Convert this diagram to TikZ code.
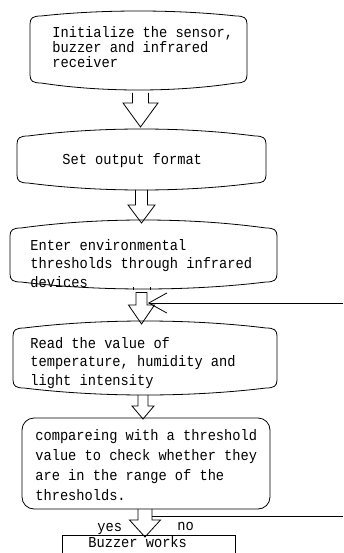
\documentclass[tikz,border=0pt]{standalone}
\usepackage{fontspec}
\newfontfamily\monof[FakeStretch=0.9]{Liberation Mono}
\usetikzlibrary{calc,arrows.meta}
\newcommand\wavybox[6]{%
\pgfmathsetmacro\cT{(4*#3-#4)/3}%
\pgfmathsetmacro\cB{(4*#5-#6)/3}%
\pgfmathsetmacro\xa{#1+0.33*(#2-#1)}%
\pgfmathsetmacro\xb{#2-0.33*(#2-#1)}%
\draw (#1,#4+8) .. controls (#1,#4+2) and (#1+3,#4) .. (#1+11,#4)
 .. controls (\xa,\cT) and (\xb,\cT) .. (#2-11,#4)
 .. controls (#2-3,#4) and (#2,#4+2) .. (#2,#4+8)
 -- (#2,#6-8)
 .. controls (#2,#6-2) and (#2-3,#6) .. (#2-11,#6)
 .. controls (\xb,\cB) and (\xa,\cB) .. (#1+11,#6)
 .. controls (#1+3,#6) and (#1,#6-2) .. (#1,#6-8) -- cycle;}
% block arrow: #1 start coord, #2 tip coord, #3 shaft half, #4 head half, #5 head length
\newcommand\barrow[5]{%
\draw ($(#1)+(-#3,0)$) -- ($(#2)+(-#3,-#5)$) -- ($(#2)+(-#4,-#5)$) -- (#2)
 -- ($(#2)+(#4,-#5)$) -- ($(#2)+(#3,-#5)$) -- ($(#1)+(#3,0)$);}
\begin{document}
\begin{tikzpicture}[x=1pt,y=-1pt,line width=0.8pt,
  txt/.style={anchor=base west,inner sep=0pt,align=left,font=\monof\fontsize{15.2}{#1}\selectfont},
  txt/.default=18.5]
\useasboundingbox (0,0) rectangle (343,553);
% boxes
\wavybox{30}{247}{11}{16}{90}{83}
\wavybox{17}{266}{129}{136}{190}{183}
\wavybox{10}{277}{220}{228}{289}{282}
\wavybox{13}{277}{321}{328}{395}{388}
\draw[rounded corners=12] (22,418) rectangle (270,509);
\draw (62,535) rectangle (235,570);
% texts (anchor = baseline of last line)
\node[txt=15] (b1) at (52,68) {Initialize the sensor,\\buzzer and infrared\\receiver};
\node[txt] (b2) at (62,165) {Set output format};
\node[txt] (b3) at (30,287) {Enter environmental\\thresholds through infrared\\devices};
\node[txt] (b4) at (30,385) {Read the value of\\temperature, humidity and\\light intensity};
\node[txt=20] (b5) at (35,500) {compareing with a threshold\\value to check whether they\\are in the range of the\\thresholds.};
\node[txt] (b6) at (88,547) {Buzzer works};
\node[txt] (yes) at (97,531) {yes};
\node[txt] (no) at (177,530) {no};
% arrow coordinates
\coordinate (a1s) at (140.5,93);  \coordinate (a1t) at (140.5,127);
\coordinate (a2s) at (141.5,190); \coordinate (a2t) at (141.5,223);
\coordinate (a3s) at (141.5,292); \coordinate (a3t) at (141.5,324);
\coordinate (a4s) at (143,395);   \coordinate (a4t) at (143,419);
\coordinate (a5s) at (145,509);   \coordinate (a5t) at (145,537);
\barrow{a1s}{a1t}{8}{17.5}{24}
\barrow{a2s}{a2t}{6}{13.5}{18}
\barrow{a3s}{a3t}{5.5}{13}{19}
\draw ($(a3s)+(-5.5,0)$) -- ($(a3s)+(5.5,0)$);
\draw ($(a3s)+(-8.5,-5)$) -- ($(a3s)+(-8.5,-2.5)$);
\draw ($(a3s)+(8.5,-5)$) -- ($(a3s)+(8.5,-2.5)$);
\barrow{a4s}{a4t}{5}{11}{13}
\barrow{a5s}{a5t}{7}{15.5}{17}
% feedback line
\coordinate (fbR) at (343,303);
\coordinate (fbT) at (148,303);
\draw[-{Straight Barb[length=18pt,width=20pt,line width=0.8pt]}] (fbR) -- (fbT);
% no branch
\coordinate (noL) at ($(a5s)+(7,7)$);
\coordinate (noR) at (343,516);
\draw (noL) -- (noL -| noR);
\end{tikzpicture}
\end{document}
